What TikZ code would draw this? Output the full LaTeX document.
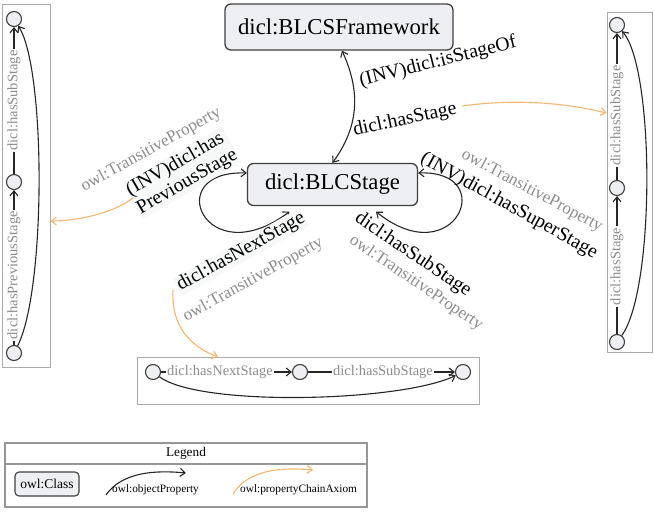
\documentclass[tikz,border=0pt]{standalone}
\usepackage{fontspec}
\setmainfont{Liberation Serif}
\usetikzlibrary{arrows.meta}
\definecolor{nodefill}{RGB}{238,239,242}
\definecolor{nodedraw}{RGB}{64,64,64}
\definecolor{boxgray}{RGB}{170,170,170}
\definecolor{legendgray}{RGB}{150,150,150}
\definecolor{chainorange}{RGB}{248,182,108}
\definecolor{graytext}{RGB}{140,140,140}
\definecolor{lblfill}{RGB}{247,248,248}
\tikzset{
  cls/.style={draw=nodedraw, fill=nodefill, rounded corners=6pt, line width=1.3pt, inner sep=0pt, font=\fontsize{22.7}{26}\selectfont},
  elabel/.style={font=\fontsize{19.7}{21}\selectfont, fill=lblfill, inner sep=1pt},
  glabel/.style={font=\fontsize{17}{19}\selectfont, text=graytext, inner sep=1pt},
  blabel/.style={font=\fontsize{14.5}{16}\selectfont, text=graytext, fill=white, inner sep=1.5pt},
  dot/.style={circle, draw=nodedraw, fill=nodefill, minimum size=15pt, inner sep=0pt, line width=1.1pt},
  grbox/.style={draw=boxgray, line width=1pt, inner sep=0pt},
  barb/.tip={Straight Barb[length=5pt,width=8pt]},
  objarrow/.style={draw=black!85, line width=1.1pt, -barb},
  biarrow/.style={draw=black!85, line width=1.1pt, barb-barb},
  chain/.style={draw=chainorange, line width=1.1pt, -barb},
}
\begin{document}
\begin{tikzpicture}[x=1pt,y=-1pt]
\useasboundingbox (0,0) rectangle (654,514);

% main classes
\node[cls, minimum width=228pt, minimum height=46pt] (fw) at (339,27) {dicl:BLCSFramework};
\node[cls, minimum width=170pt, minimum height=42pt] (stage) at (332.5,184.5) {dicl:BLCStage};

% framework <-> stage
\draw[biarrow] ([xshift=3pt]fw.south) .. controls (360,90) and (360,125) .. (stage.north);
\node[elabel, fill=none, rotate=14] (isstageof) at (438,62) {(INV)dicl:isStageOf};
\node[elabel, fill=none, rotate=12] (hasstage) at (405,120) {dicl:hasStage};

% self loops
\draw[biarrow] ([yshift=11.5pt]stage.west) .. controls (160,170) and (205,275) .. ([xshift=-43pt,yshift=-5.5pt]stage.south);
\draw[biarrow] ([yshift=11.5pt]stage.east) .. controls (500,170) and (455,275) .. ([xshift=43.5pt,yshift=-5.5pt]stage.south);

% left loop labels
\node[glabel, rotate=29] (gl1) at (151,150) {owl:TransitiveProperty};
\node[elabel, rotate=30, align=left] (hasprev) at (182,173) {(INV)dicl:has\\PreviousStage};
\node[glabel, rotate=29] (gl2) at (253,280) {owl:TransitiveProperty};
\node[elabel, rotate=29] (hasnext) at (241,252) {dicl:hasNextStage};

% right loop labels
\node[glabel, rotate=-28] (gr1) at (532,191) {owl:TransitiveProperty};
\node[elabel, fill=none, rotate=-29] (hassuper) at (509,206) {(INV)dicl:hasSuperStage};
\node[glabel, rotate=-34] (gr2) at (416,283) {owl:TransitiveProperty};
\node[elabel, fill=none, rotate=-34] (hassub) at (413,255) {dicl:hasSubStage};

% boxes
\node[grbox, minimum width=48pt, minimum height=363pt] (lbox) at (26,185.5) {};
\node[grbox, minimum width=45pt, minimum height=340pt] (rbox) at (629.5,182) {};
\node[grbox, minimum width=342pt, minimum height=47pt] (bbox) at (308,380.5) {};

% left box chain
\node[dot] (L1) at (14,353) {};
\node[dot] (L2) at (14,182) {};
\node[dot] (L3) at (14,19) {};
\draw[objarrow] (L1) -- node[blabel, rotate=90, pos=0.45] {dicl:hasPreviousStage} (L2);
\draw[objarrow] (L2) -- node[blabel, rotate=90, pos=0.5] {dicl:hasSubStage} (L3);
\draw[objarrow] (L1) .. controls (46,290) and (46,70) .. (L3);

% right box chain
\node[dot] (R1) at (617,342) {};
\node[dot] (R2) at (617,188) {};
\node[dot] (R3) at (617,25) {};
\draw[objarrow] (R1) -- node[blabel, rotate=90, pos=0.49] {dicl:hasStage} (R2);
\draw[objarrow] (R2) -- node[blabel, rotate=90, pos=0.44] {dicl:hasSubStage} (R3);
\draw[objarrow] (R1) .. controls (655,290) and (655,70) .. (R3);

% bottom box chain
\node[dot] (B1) at (153,372) {};
\node[dot] (B2) at (300,372) {};
\node[dot] (B3) at (463,372) {};
\draw[objarrow] (B1) -- node[blabel, pos=0.45] {dicl:hasNextStage} (B2);
\draw[objarrow] (B2) -- node[blabel, pos=0.51] {dicl:hasSubStage} (B3);
\draw[objarrow] (B1) .. controls (200,407) and (400,402) .. (B3);

% property chain axioms
\coordinate (cs1) at (462,106);
\coordinate (cs2) at (133,198);
\coordinate (cs3) at (173,290);
\draw[chain] (cs1) .. controls (520,98) and (570,104) .. (rbox.west |- 0,113);
\draw[chain] (cs2) .. controls (115,212) and (80,221) .. (lbox.east |- 0,221);
\draw[chain] (cs3) .. controls (171,328) and (192,347) .. (218,357);

% legend
\node[draw=legendgray, line width=1.2pt, minimum width=362pt, minimum height=64pt, inner sep=0pt] (legend) at (186,475) {};
\draw[draw=legendgray, line width=1.2pt] (legend.west |- 0,464) -- (legend.east |- 0,464);
\node[font=\fontsize{13.3}{15}\selectfont] (legendtitle) at (186,453.5) {Legend};
\node[cls, line width=1.1pt, rounded corners=4pt, minimum width=64pt, minimum height=24pt, font=\fontsize{13.5}{15}\selectfont] (lgclass) at (47,484) {owl:Class};
\coordinate (lo1) at (106,495);
\coordinate (lo2) at (186,473);
\draw[objarrow] (lo1) .. controls (122,472) and (155,470) .. (lo2);
\node[font=\fontsize{11.3}{13}\selectfont, anchor=west, inner sep=0pt] (lgobj) at (112,490) {owl:objectProperty};
\coordinate (lc1) at (233,494);
\coordinate (lc2) at (313,470);
\draw[chain] (lc1) .. controls (248,470) and (280,467) .. (lc2);
\node[font=\fontsize{11.3}{13}\selectfont, anchor=west, inner sep=0pt] (lgchain) at (240,490) {owl:propertyChainAxiom};
\end{tikzpicture}
\end{document}
